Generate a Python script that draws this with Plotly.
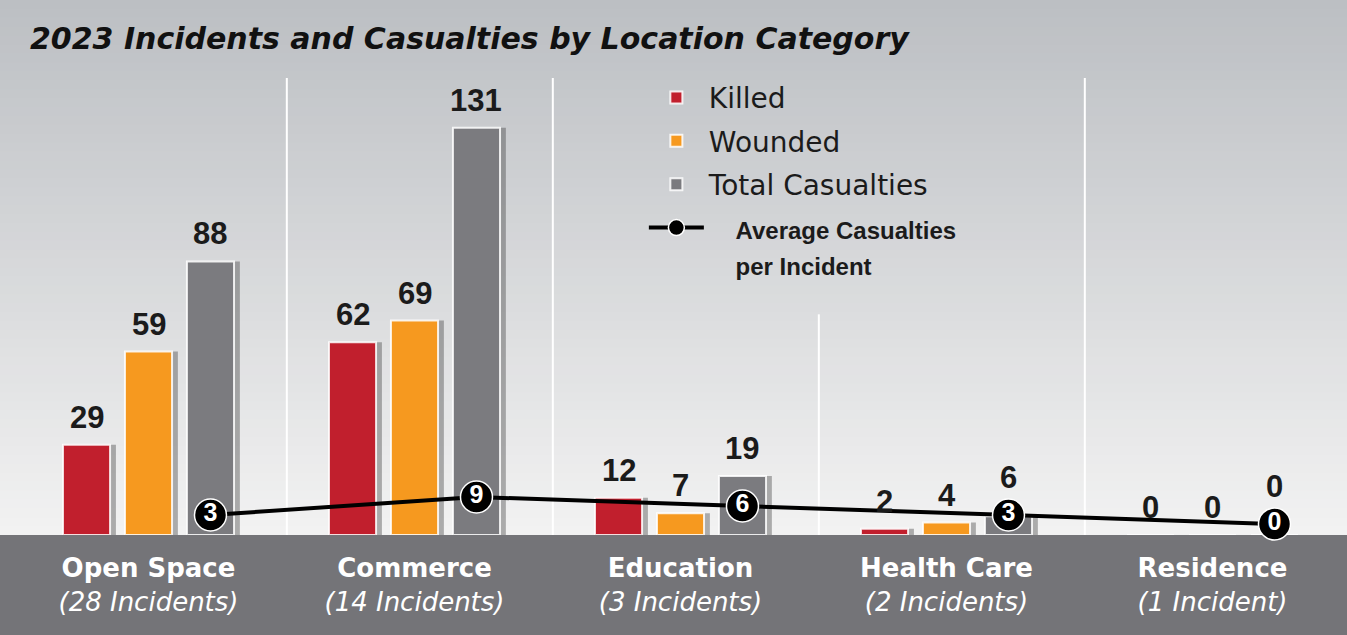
import plotly.graph_objects as go

# --- Datos ---
categorias = ["Open Space", "Commerce", "Education", "Health Care", "Residence"]
incidentes = [28, 14, 3, 2, 1]
muertos = [29, 62, 12, 2, 0]
heridos = [59, 69, 7, 4, 0]
total_victimas = [88, 131, 19, 6, 0]
promedio_por_incidente = [3, 9, 6, 3, 0]

ROJO = "#c11f2d"
NARANJA = "#f6991f"
GRIS = "#7b7b7f"
BANDA = "#747478"

etiquetas = [
    f"<b>{c}</b><br><i>({n} Incident{'s' if n != 1 else ''})</i>"
    for c, n in zip(categorias, incidentes)
]
x = list(range(len(categorias)))

ANCHO = 0.177
PASO = 0.233
PX_Y = 460 / 148      # pixeles por unidad (eje de barras)
PX_Y2 = 3.0           # pixeles por unidad (eje del promedio)
series = [
    ("Killed", muertos, ROJO, -PASO),
    ("Wounded", heridos, NARANJA, 0.0),
    ("Total Casualties", total_victimas, GRIS, PASO),
]

fig = go.Figure()

# sombras de las barras
for nombre, valores, color, dx in series:
    fig.add_trace(go.Bar(
        x=x, y=valores, width=ANCHO, offset=dx - ANCHO / 2 + 0.022,
        marker_color="rgba(40,40,40,0.35)", marker_line_width=0,
        showlegend=False, hoverinfo="skip",
    ))

# barras principales
for k, (nombre, valores, color, dx) in enumerate(series):
    fig.add_trace(go.Bar(
        x=x, y=valores, width=ANCHO, offset=dx - ANCHO / 2,
        name=nombre, legendgroup=f"g{k}",
        marker_color=color,
        marker_line_color="rgba(255,255,255,0.85)",
        marker_line_width=2,
    ))

# línea de promedio
x_linea = [i + PASO for i in x]
fig.add_trace(go.Scatter(
    x=x_linea, y=promedio_por_incidente, yaxis="y2",
    mode="lines+markers", legendgroup="g3",
    name=("<span style='font-family:Liberation Sans;font-size:24px'><b>"
          "&nbsp;&nbsp;&nbsp;&nbsp;Average Casualties<br>&nbsp;&nbsp;&nbsp;&nbsp;per Incident</b></span>"),
    line=dict(color="black", width=4),
    marker=dict(size=32, color="black", line=dict(color="white", width=1.5)),
    cliponaxis=False,
))
fig.add_trace(go.Scatter(
    x=x_linea, y=promedio_por_incidente, yaxis="y2",
    mode="text", text=[f"<b>{v}</b>" for v in promedio_por_incidente],
    textfont=dict(family="Liberation Sans", size=25, color="white"),
    showlegend=False, hoverinfo="skip", cliponaxis=False,
))

# etiquetas de valor sobre las barras
anotaciones = []
for nombre, valores, color, dx in series:
    for i, v in enumerate(valores):
        desplazamiento = 8
        if nombre == "Total Casualties":
            # subir la etiqueta si choca con el marcador del promedio
            tope_marcador = 11 + PX_Y2 * promedio_por_incidente[i] + 18
            desplazamiento = max(8, tope_marcador - PX_Y * v)
        anotaciones.append(dict(
            x=i + dx, y=v, xref="x", yref="y", text=f"<b>{v}</b>",
            showarrow=False, yanchor="bottom", yshift=desplazamiento,
            font=dict(family="Liberation Sans", size=31, color="#1b1b1b"),
        ))

# --- fondo degradado ---
formas = []
N = 60
top_paper = 1 + 75 / 460
c0 = (188, 191, 195)
c1 = (242, 242, 242)
for i in range(N):
    t = i / (N - 1)
    col = tuple(round(c1[k] + (c0[k] - c1[k]) * t) for k in range(3))
    formas.append(dict(
        type="rect", xref="paper", yref="paper", layer="below",
        x0=0, x1=1, y0=top_paper * i / N, y1=top_paper * (i + 1) / N + 0.002,
        fillcolor=f"rgb{col}", line_width=0,
    ))
# banda inferior
formas.append(dict(
    type="rect", xref="paper", yref="paper", layer="below",
    x0=0, x1=1, y0=-100 / 460, y1=0, fillcolor=BANDA, line_width=0,
))
# separadores blancos
for xs, ytop in [(0.52, 147), (1.52, 147), (2.52, 71), (3.52, 147)]:
    formas.append(dict(
        type="line", xref="x", yref="y", layer="below",
        x0=xs, x1=xs, y0=0, y1=ytop, line=dict(color="white", width=2),
    ))

fig.update_layout(
    width=1347, height=635,
    margin=dict(l=0, r=0, t=75, b=100),
    paper_bgcolor="#f0f0f0",
    plot_bgcolor="rgba(0,0,0,0)",
    barmode="overlay",
    shapes=formas,
    annotations=anotaciones,
    title=dict(
        text="<b><i>2023 Incidents and Casualties by Location Category</i></b>",
        x=30 / 1347, xanchor="left", y=1 - 38 / 635, yanchor="middle",
        font=dict(family="DejaVu Sans", size=30, color="#111111"),
    ),
    xaxis=dict(
        range=[-148.5 / 266, (1347 - 148.5) / 266],
        tickvals=x, ticktext=etiquetas,
        tickfont=dict(family="DejaVu Sans", size=26, color="white"),
        showgrid=False, zeroline=False, showline=False, ticks="",
        ticklabelstandoff=15,
    ),
    yaxis=dict(range=[0, 148], visible=False, showgrid=False),
    yaxis2=dict(range=[-11 / PX_Y2, -11 / PX_Y2 + 460 / PX_Y2], overlaying="y", visible=False),
    legend=dict(
        x=0.478, y=1.005, xanchor="left", yanchor="top",
        bgcolor="rgba(0,0,0,0)",
        font=dict(family="DejaVu Sans", size=28, color="#1b1b1b"),
        traceorder="grouped", tracegroupgap=4, itemwidth=55, valign="top",
    ),
    showlegend=True,
)

fig.write_html(
    "out.html",
    config={"displayModeBar": False},
    post_script="document.body.style.margin='0';",
)
